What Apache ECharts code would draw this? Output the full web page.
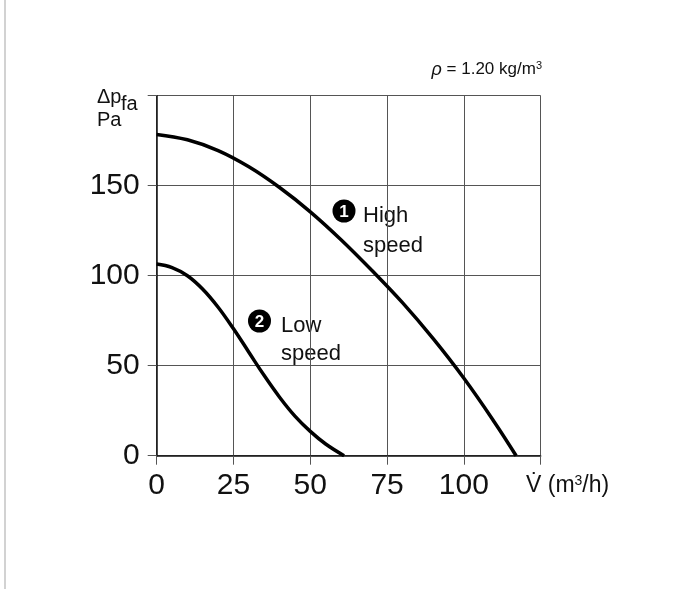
<!DOCTYPE html>
<html>
<head>
<meta charset="utf-8">
<script src="https://cdn.jsdelivr.net/npm/echarts@6/dist/echarts.min.js"></script>
<style>
  html,body{margin:0;padding:0;background:#fff;}
  #chart{width:683px;height:589px;}
</style>
</head>
<body>
<div id="chart"></div>
<script>
// flow (m3/h) / pressure (Pa)
var highFlow = [0, 10, 20, 30, 40, 50, 60, 70, 80, 90, 100, 110, 117];
var highPress = [178.5, 175.5, 169.5, 160.5, 149, 135.5, 120, 103, 85, 65, 43, 18.5, 0];
var lowFlow = [0, 5, 10, 15, 20, 25, 30, 35, 40, 45, 50, 55, 61];
var lowPress = [106.5, 104.5, 100, 92.5, 82.5, 70.5, 57.5, 44.5, 32.5, 22, 13.5, 6.5, 0];
// labelled ticks (125 and 200 get a tick but no label)
var xTicks = [0, 25, 50, 75, 100];
var yTicks = [0, 50, 100, 150];

var font = '"Liberation Sans", Arial, sans-serif';
var chart = echarts.init(document.getElementById('chart'));

function pairs(xs, ys) {
  return xs.map(function (x, i) { return [x, ys[i]]; });
}

chart.setOption({
  backgroundColor: '#ffffff',
  animation: false,
  grid: { left: 156.7, right: 142.3, top: 95.7, bottom: 133.3 },
  xAxis: {
    type: 'value',
    min: 0, max: 125, interval: 25,
    axisLine: { show: true, lineStyle: { color: '#111', width: 1.5 } },
    axisTick: { show: true, length: 9, lineStyle: { color: '#555', width: 1 } },
    splitLine: { show: true, lineStyle: { color: '#555', width: 1 } },
    axisLabel: {
      margin: 15,
      fontFamily: font, fontSize: 30, color: '#111',
      formatter: function (v) { return xTicks.indexOf(v) >= 0 ? String(v) : ''; }
    }
  },
  yAxis: {
    type: 'value',
    min: 0, max: 200, interval: 50,
    axisLine: { show: true, lineStyle: { color: '#111', width: 1.5 } },
    axisTick: { show: true, length: 9, lineStyle: { color: '#555', width: 1 } },
    splitLine: { show: true, lineStyle: { color: '#555', width: 1 } },
    axisLabel: {
      margin: 17,
      fontFamily: font, fontSize: 30, color: '#111',
      formatter: function (v) { return yTicks.indexOf(v) >= 0 ? String(v) : ''; }
    }
  },
  series: [
    {
      name: 'High speed', type: 'line', smooth: 0.4, symbol: 'none',
      lineStyle: { color: '#000', width: 3.5 },
      data: pairs(highFlow, highPress), z: 5
    },
    {
      name: 'Low speed', type: 'line', smooth: 0.4, symbol: 'none',
      lineStyle: { color: '#000', width: 3.5 },
      data: pairs(lowFlow, lowPress), z: 5
    }
  ],
  graphic: [
    // page border on the left
    { type: 'line', shape: { x1: 5, y1: 0, x2: 5, y2: 589 }, style: { stroke: '#d2d2d2', lineWidth: 2 } },
    // axis titles
    { type: 'text', left: 97, top: 87, style: { text: 'Δp', font: '20px ' + font, fill: '#111' } },
    { type: 'text', left: 121, top: 94, style: { text: 'fa', font: '20px ' + font, fill: '#111' } },
    { type: 'text', left: 97, top: 110, style: { text: 'Pa', font: '20px ' + font, fill: '#111' } },
    {
      type: 'text', right: 683 - 542, top: 60,
      style: {
        text: '{i|ρ} = 1.20 kg/m{s|3}', font: '17px ' + font, fill: '#111',
        rich: {
          i: { fontStyle: 'italic', fontSize: 18, fontFamily: font },
          s: { fontSize: 11, fontFamily: font, padding: [0, 0, 8, 0] }
        }
      }
    },
    {
      type: 'text', left: 526, top: 474,
      style: {
        text: 'V̇ (m{s|3}/h)', font: '23px ' + font, fill: '#111',
        rich: {
          s: { fontSize: 14, fontFamily: font, padding: [0, 0, 10, 0] }
        }
      }
    },
    // curve labels
    { type: 'circle', shape: { cx: 344, cy: 211, r: 11.5 }, style: { fill: '#000' } },
    { type: 'text', x: 344, y: 212, style: { text: '1', font: 'bold 17px ' + font, fill: '#fff', align: 'center', verticalAlign: 'middle' } },
    { type: 'text', left: 363, top: 201, style: { text: 'High\nspeed', font: '22px ' + font, lineHeight: 30, fill: '#111' } },
    { type: 'circle', shape: { cx: 259.5, cy: 321, r: 11.5 }, style: { fill: '#000' } },
    { type: 'text', x: 259.5, y: 322, style: { text: '2', font: 'bold 17px ' + font, fill: '#fff', align: 'center', verticalAlign: 'middle' } },
    { type: 'text', left: 281, top: 312, style: { text: 'Low\nspeed', font: '22px ' + font, lineHeight: 28, fill: '#111' } }
  ]
});
</script>
</body>
</html>
